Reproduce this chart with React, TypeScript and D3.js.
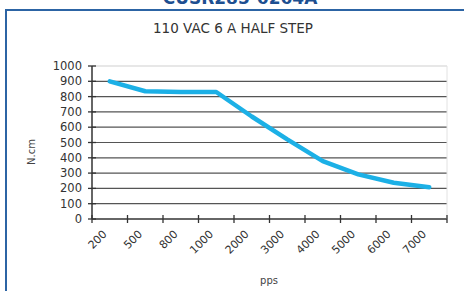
import React from "react";
import * as d3 from "d3";

const categories = ["200", "500", "800", "1000", "2000", "3000", "4000", "5000", "6000", "7000"];
const torque = [900, 835, 830, 830, 670, 520, 378, 292, 237, 207];
const yTicks = [0, 100, 200, 300, 400, 500, 600, 700, 800, 900, 1000];
const title = "110 VAC 6 A HALF STEP";
const header = "CUSR285-6264A";
const yLabel = "N.cm";
const xLabel = "pps";

export default function App() {
  const W = 464, H = 291;
  const left = 92, right = 447, top = 66, bottom = 219;
  const x = d3.scaleBand().domain(categories).range([left, right]);
  const y = d3.scaleLinear().domain([0, 1000]).range([bottom, top]);
  const line = d3
    .line<number>()
    .x((_, i) => (x(categories[i]) as number) + x.bandwidth() / 2)
    .y((d) => y(d))
    .curve(d3.curveLinear);
  const font = "DejaVu Sans, Verdana, sans-serif";
  const tickXs = categories.map((c) => x(c) as number).concat([right]);
  return (
    <svg width={W} height={H} style={{ position: "absolute", left: 0, top: 0, background: "#fff" }}>
      <text x={240} y={4} textAnchor="middle" fontFamily={font} fontWeight="bold" fontSize={17} fill="#1d4f91">
        {header}
      </text>
      <rect x={6} y={10} width={470} height={300} fill="#fff" stroke="#2c64a4" strokeWidth={2} />
      <text x={233} y={33} textAnchor="middle" fontFamily={font} fontSize={13.5} fill="#333">
        {title}
      </text>
      {yTicks.map((t) => (
        <line
          key={t}
          x1={left}
          x2={right}
          y1={y(t)}
          y2={y(t)}
          stroke={t === 1000 ? "#cfcfcf" : t === 0 ? "#333" : "#555"}
          strokeWidth={t === 0 ? 1.5 : 1.2}
        />
      ))}
      <line x1={right} x2={right} y1={top} y2={bottom} stroke="#e2e2e2" strokeWidth={1} />
      <line x1={left} x2={left} y1={top} y2={bottom} stroke="#333" strokeWidth={1.5} />
      {yTicks.map((t) => (
        <g key={"yt" + t}>
          <line x1={left - 4} x2={left + 4} y1={y(t)} y2={y(t)} stroke="#333" strokeWidth={1.3} />
          <text x={82} y={y(t)} dy="0.35em" textAnchor="end" fontFamily={font} fontSize={11.5} fill="#333">
            {t}
          </text>
        </g>
      ))}
      {tickXs.map((tx, i) => (
        <line key={"xt" + i} x1={tx} x2={tx} y1={bottom - 4} y2={bottom + 4} stroke="#333" strokeWidth={1.3} />
      ))}
      {categories.map((c) => {
        const cx = (x(c) as number) + x.bandwidth() / 2;
        return (
          <text
            key={"xl" + c}
            transform={`translate(${cx - 5},${bottom + 13}) rotate(-45)`}
            textAnchor="end"
            dy="0.35em"
            fontFamily={font}
            fontSize={11}
            fill="#333"
          >
            {c}
          </text>
        );
      })}
      <text
        transform={`translate(35,152) rotate(-90)`}
        textAnchor="middle"
        fontFamily={font}
        fontSize={10}
        fill="#444"
      >
        {yLabel}
      </text>
      <text x={269} y={284} textAnchor="middle" fontFamily={font} fontSize={10} fill="#444">
        {xLabel}
      </text>
      <path d={line(torque) as string} fill="none" stroke="#1cb0e6" strokeWidth={4.5} strokeLinejoin="round" strokeLinecap="round" />
    </svg>
  );
}
